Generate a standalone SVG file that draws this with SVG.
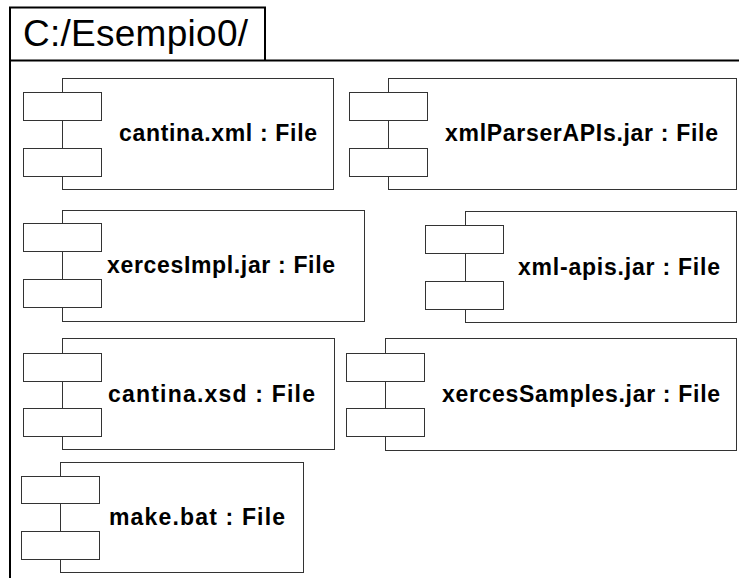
<svg xmlns="http://www.w3.org/2000/svg" width="739" height="578" viewBox="0 0 739 578">
<style>
.frame{fill:none;stroke:#000;stroke-width:2}
.box{fill:#fff;stroke:#333;stroke-width:1}
.lbl{font-family:"Liberation Sans",Arial,sans-serif;font-weight:bold;font-size:23px;fill:#000}
.title{font-family:"Liberation Sans",Arial,sans-serif;font-size:37px;fill:#000}
</style>
<rect width="739" height="578" fill="#fff"/>
<g id="frame">
<path class="frame" d="M10,578 V7.5 H265 V60.5 M10,60.5 H739"/>
<text class="title" x="23" y="46" textLength="225" lengthAdjust="spacing">C:/Esempio0/</text>
</g>
<g id="n1">
<rect class="box" x="62.5" y="78.5" width="271" height="111"/>
<rect class="box" x="23.5" y="92.5" width="78" height="28"/>
<rect class="box" x="23.5" y="148.5" width="78" height="28"/>
<text class="lbl" x="119" y="141" textLength="198" lengthAdjust="spacing">cantina.xml : File</text>
</g>
<g id="n2">
<rect class="box" x="388.5" y="78.5" width="348" height="111"/>
<rect class="box" x="349.5" y="92.5" width="78" height="28"/>
<rect class="box" x="349.5" y="148.5" width="78" height="28"/>
<text class="lbl" x="445" y="141" textLength="273" lengthAdjust="spacing">xmlParserAPIs.jar : File</text>
</g>
<g id="n3">
<rect class="box" x="62.5" y="210.5" width="302" height="111"/>
<rect class="box" x="23.5" y="223.5" width="78" height="28"/>
<rect class="box" x="23.5" y="279.5" width="78" height="28"/>
<text class="lbl" x="107" y="273" textLength="228" lengthAdjust="spacing">xercesImpl.jar : File</text>
</g>
<g id="n4">
<rect class="box" x="465.5" y="211.5" width="271" height="111"/>
<rect class="box" x="425.5" y="225.5" width="78" height="28"/>
<rect class="box" x="425.5" y="281.5" width="78" height="28"/>
<text class="lbl" x="518" y="275" textLength="202" lengthAdjust="spacing">xml-apis.jar : File</text>
</g>
<g id="n5">
<rect class="box" x="62.5" y="338.5" width="272" height="111"/>
<rect class="box" x="23.5" y="353.5" width="78" height="28"/>
<rect class="box" x="23.5" y="408.5" width="78" height="28"/>
<text class="lbl" x="108" y="402" textLength="207" lengthAdjust="spacing">cantina.xsd : File</text>
</g>
<g id="n6">
<rect class="box" x="385.5" y="338.5" width="351" height="112"/>
<rect class="box" x="346.5" y="353.5" width="78" height="28"/>
<rect class="box" x="346.5" y="408.5" width="78" height="28"/>
<text class="lbl" x="442" y="402" textLength="278" lengthAdjust="spacing">xercesSamples.jar : File</text>
</g>
<g id="n7">
<rect class="box" x="60.5" y="462.5" width="243" height="110"/>
<rect class="box" x="21.5" y="476.5" width="78" height="27"/>
<rect class="box" x="21.5" y="531.5" width="78" height="28"/>
<text class="lbl" x="109" y="525" textLength="176" lengthAdjust="spacing">make.bat : File</text>
</g>
<g id="connectors"></g>
</svg>
